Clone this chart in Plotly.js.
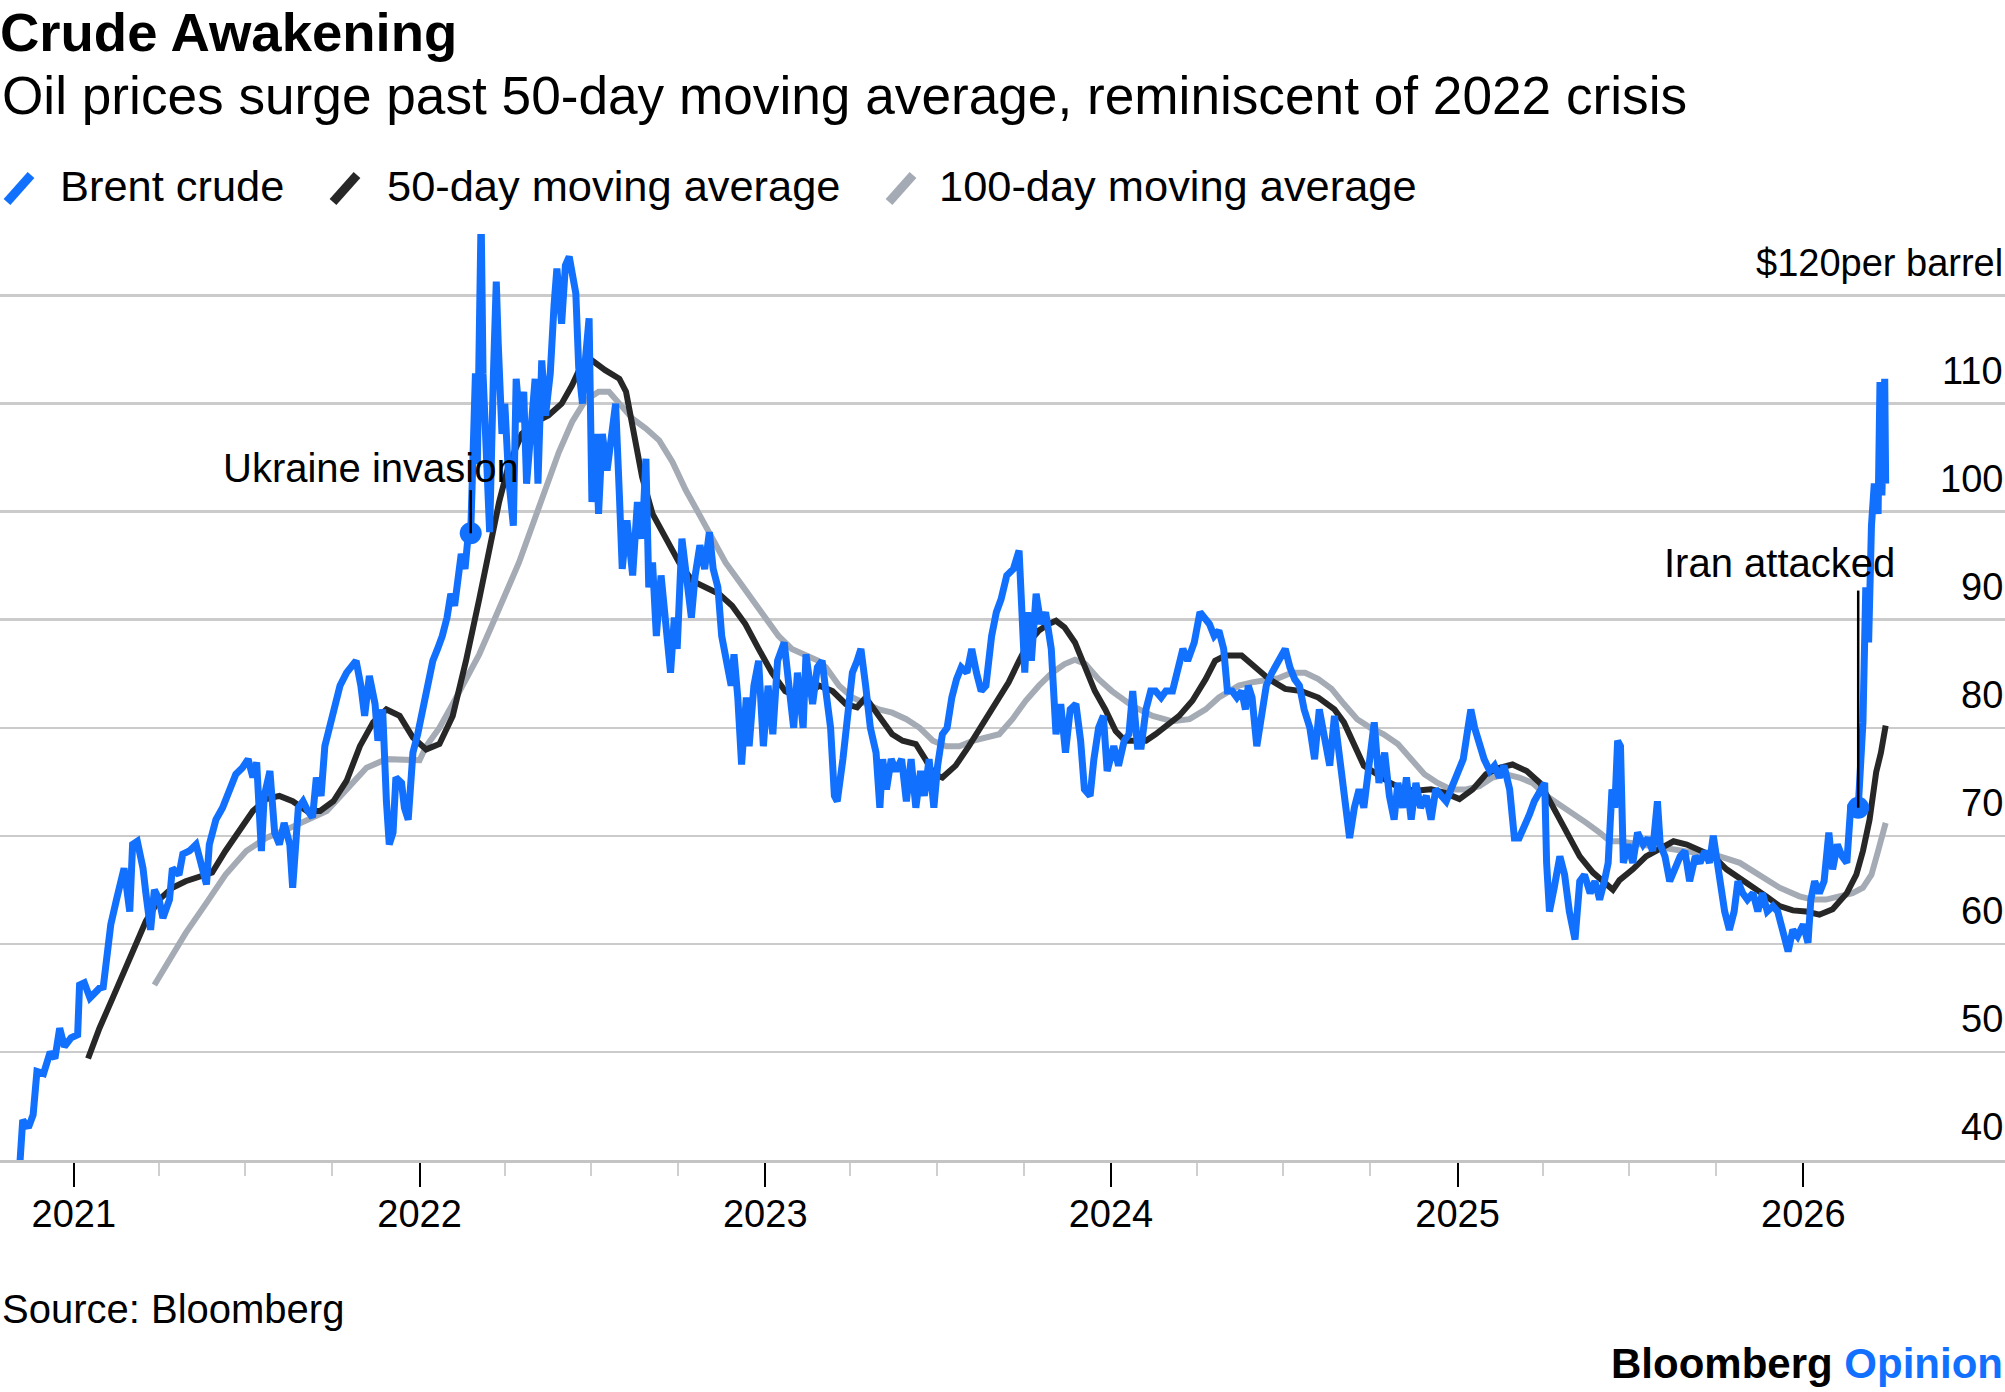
<!DOCTYPE html>
<html>
<head>
<meta charset="utf-8">
<script src="https://cdn.plot.ly/plotly-3.0.1.min.js"></script>
<style>
  html, body { margin: 0; padding: 0; background: #fff; }
  #chart { width: 2005px; height: 1392px; }
</style>
</head>
<body>
<div id="chart"></div>
<script>
// ---------------- DATA ----------------
const brentDates = [
 "2020-11-05","2020-11-08","2020-11-14","2020-11-19","2020-11-23","2020-11-30","2020-12-07","2020-12-12","2020-12-17","2020-12-22","2020-12-29",
 "2021-01-05","2021-01-07","2021-01-12","2021-01-18","2021-01-28","2021-02-01","2021-02-04","2021-02-09","2021-02-15","2021-02-20","2021-02-23",
 "2021-03-01","2021-03-04","2021-03-09","2021-03-15","2021-03-18","2021-03-23","2021-03-27","2021-04-01","2021-04-05","2021-04-12","2021-04-15",
 "2021-04-22","2021-04-26","2021-05-03","2021-05-10","2021-05-15","2021-05-21","2021-05-24","2021-05-31","2021-06-07","2021-06-14","2021-06-21",
 "2021-06-28","2021-07-04","2021-07-09","2021-07-13","2021-07-18","2021-07-21","2021-07-27","2021-08-01","2021-08-06","2021-08-11","2021-08-17",
 "2021-08-20","2021-08-26","2021-08-31","2021-09-05","2021-09-10","2021-09-14","2021-09-19","2021-09-23","2021-09-28","2021-10-03","2021-10-09",
 "2021-10-16","2021-10-21","2021-10-26","2021-10-31","2021-11-04","2021-11-09","2021-11-15","2021-11-18","2021-11-23","2021-11-27","2021-11-30",
 "2021-12-04","2021-12-07","2021-12-13","2021-12-16","2021-12-20","2021-12-25","2021-12-30",
 "2022-01-04","2022-01-09","2022-01-15","2022-01-20","2022-01-25","2022-01-30","2022-02-03","2022-02-07","2022-02-11","2022-02-14","2022-02-18",
 "2022-02-21","2022-02-24","2022-03-01","2022-03-03","2022-03-07","2022-03-09","2022-03-14","2022-03-16","2022-03-20","2022-03-23","2022-03-25",
 "2022-03-29","2022-04-01","2022-04-05","2022-04-10","2022-04-13","2022-04-17","2022-04-21","2022-04-24","2022-04-29","2022-05-03","2022-05-06",
 "2022-05-10","2022-05-14","2022-05-19","2022-05-23","2022-05-26","2022-05-31","2022-06-04","2022-06-08","2022-06-11","2022-06-15","2022-06-18",
 "2022-06-22","2022-06-25","2022-06-29","2022-07-02","2022-07-06","2022-07-09","2022-07-13","2022-07-18","2022-07-22","2022-07-27","2022-07-31",
 "2022-08-03","2022-08-08","2022-08-14","2022-08-19","2022-08-24","2022-08-28","2022-08-31","2022-09-04","2022-09-08","2022-09-13","2022-09-18",
 "2022-09-23","2022-09-27","2022-09-30","2022-10-05","2022-10-10","2022-10-15","2022-10-19","2022-10-24","2022-10-29","2022-11-03","2022-11-07",
 "2022-11-12","2022-11-16","2022-11-21","2022-11-26","2022-11-29","2022-12-03","2022-12-07","2022-12-12","2022-12-15","2022-12-20","2022-12-25",
 "2022-12-30",
 "2023-01-04","2023-01-09","2023-01-14","2023-01-21","2023-01-26","2023-01-31","2023-02-04","2023-02-10","2023-02-13","2023-02-20","2023-02-25",
 "2023-03-02","2023-03-06","2023-03-11","2023-03-15","2023-03-18","2023-03-24","2023-03-29","2023-04-03","2023-04-08","2023-04-12","2023-04-17",
 "2023-04-22","2023-04-28","2023-05-02","2023-05-05","2023-05-09","2023-05-14","2023-05-19","2023-05-25","2023-05-30","2023-06-04","2023-06-09",
 "2023-06-14","2023-06-18","2023-06-23","2023-06-28","2023-07-02","2023-07-07","2023-07-12","2023-07-17","2023-07-22","2023-07-27","2023-08-02",
 "2023-08-07","2023-08-12","2023-08-17","2023-08-22","2023-08-28","2023-09-02","2023-09-07","2023-09-13","2023-09-20","2023-09-26","2023-09-29",
 "2023-10-02","2023-10-05","2023-10-09","2023-10-14","2023-10-19","2023-10-24","2023-10-30","2023-11-04","2023-11-09","2023-11-14","2023-11-19",
 "2023-11-25","2023-11-30","2023-12-04","2023-12-10","2023-12-14","2023-12-19","2023-12-24","2023-12-28",
 "2024-01-04","2024-01-09","2024-01-15","2024-01-20","2024-01-24","2024-01-29","2024-02-02","2024-02-07","2024-02-12","2024-02-17","2024-02-23",
 "2024-02-28","2024-03-06","2024-03-12","2024-03-17","2024-03-22","2024-03-29","2024-04-04","2024-04-09","2024-04-14","2024-04-19","2024-04-24",
 "2024-04-29","2024-05-03","2024-05-08","2024-05-13","2024-05-18","2024-05-22","2024-05-25","2024-05-29","2024-06-03","2024-06-08","2024-06-13",
 "2024-06-19","2024-06-26","2024-07-03","2024-07-08","2024-07-13","2024-07-18","2024-07-23","2024-07-29","2024-08-03","2024-08-08","2024-08-14",
 "2024-08-19","2024-08-24","2024-08-29","2024-09-03","2024-09-09","2024-09-14","2024-09-19","2024-09-24","2024-09-30","2024-10-05","2024-10-10",
 "2024-10-16","2024-10-21","2024-10-26","2024-10-30","2024-11-04","2024-11-08","2024-11-13","2024-11-18","2024-11-23","2024-11-29","2024-12-04",
 "2024-12-09","2024-12-14","2024-12-20","2024-12-25",
 "2025-01-01","2025-01-07","2025-01-12","2025-01-15","2025-01-19","2025-01-24","2025-01-29","2025-02-04","2025-02-09","2025-02-14","2025-02-19",
 "2025-02-25","2025-03-02","2025-03-07","2025-03-13","2025-03-18","2025-03-23","2025-03-29","2025-04-03","2025-04-05","2025-04-08","2025-04-13",
 "2025-04-19","2025-04-24","2025-04-29","2025-05-05","2025-05-10","2025-05-15","2025-05-21","2025-05-26","2025-05-31","2025-06-05","2025-06-09",
 "2025-06-13","2025-06-16","2025-06-19","2025-06-22","2025-06-25","2025-06-30","2025-07-05","2025-07-10","2025-07-16","2025-07-21","2025-07-26",
 "2025-07-31","2025-08-03","2025-08-08","2025-08-13","2025-08-19","2025-08-24","2025-08-29","2025-09-03","2025-09-09","2025-09-14","2025-09-19",
 "2025-09-24","2025-09-28","2025-10-01","2025-10-06","2025-10-10","2025-10-15","2025-10-20","2025-10-24","2025-10-29","2025-11-03","2025-11-09",
 "2025-11-14","2025-11-19","2025-11-24","2025-11-30","2025-12-05","2025-12-10","2025-12-16","2025-12-21","2025-12-26",
 "2026-01-01","2026-01-06","2026-01-09","2026-01-13","2026-01-18","2026-01-23","2026-01-28","2026-02-01","2026-02-06","2026-02-11","2026-02-16",
 "2026-02-20","2026-02-25","2026-02-28","2026-03-05","2026-03-08","2026-03-11","2026-03-14","2026-03-17","2026-03-21","2026-03-23","2026-03-25",
 "2026-03-28","2026-03-29"
];
const brentValues = [
 39.7,43.7,43.0,44.2,48.2,48.0,50.0,49.4,52.2,50.5,51.3,
 51.6,56.2,56.4,55.0,55.9,56.0,57.9,61.8,64.1,65.8,67.0,
 63.0,69.2,69.5,67.0,64.7,61.3,65.0,64.1,62.4,64.1,67.0,
 66.4,68.3,68.6,69.2,67.5,65.5,69.2,71.5,72.6,74.3,75.7,
 76.3,77.1,75.4,76.8,68.6,73.7,76.0,70.3,69.2,71.2,69.2,
 65.2,72.6,73.2,72.3,71.7,75.4,73.7,78.3,80.0,82.2,83.9,
 85.1,85.6,86.2,83.9,81.1,84.8,82.2,78.8,81.7,73.2,69.2,
 70.3,75.4,74.9,72.6,71.5,77.7,79.4,
 81.7,83.9,86.2,87.3,88.5,90.2,92.4,91.3,94.1,96.1,94.7,
 97.5,98.0,112.8,104.4,127.5,112.8,98.7,98.1,112.8,121.3,115.7,
 107.2,110.0,103.2,98.7,112.3,108.3,111.1,102.6,108.9,112.3,102.6,
 114.0,108.9,112.8,119.1,122.5,117.4,122.8,123.6,121.9,120.2,113.4,
 110.0,114.0,117.9,100.9,107.2,99.8,107.2,103.8,107.2,110.0,101.5,
 94.7,99.2,94.1,100.9,97.5,104.9,93.0,95.3,88.5,94.1,90.2,
 85.1,90.2,87.3,97.5,94.1,90.2,94.1,96.9,94.7,98.1,94.7,
 93.0,88.5,86.2,83.9,86.8,82.8,76.6,82.8,78.3,83.9,86.2,
 78.3,
 83.9,79.4,86.2,87.9,83.9,80.0,85.1,80.0,86.8,82.2,85.6,
 86.2,83.4,80.0,73.7,73.2,77.1,81.7,85.1,86.2,87.3,83.9,
 80.0,77.7,72.6,77.1,74.3,77.1,76.0,77.1,73.2,77.1,72.6,
 76.0,73.7,77.1,72.6,76.5,79.4,80.0,82.8,84.5,85.6,85.1,
 87.3,85.1,83.4,83.9,88.5,90.7,91.9,94.1,94.7,96.4,91.9,
 85.1,90.7,86.2,92.4,89.6,90.7,87.3,79.4,82.2,77.7,81.7,
 82.2,78.8,74.3,73.7,77.1,80.0,81.1,76.0,
 78.3,76.5,78.8,79.4,83.4,78.3,78.3,81.7,83.4,83.4,82.8,
 83.4,83.4,85.6,87.3,86.2,87.9,90.7,90.2,89.6,88.5,89.0,
 87.3,83.4,83.4,82.8,83.4,81.7,83.9,82.8,78.3,81.7,83.9,
 85.1,86.2,87.3,85.6,84.5,83.9,81.7,80.0,77.1,81.7,78.8,
 76.5,81.1,77.7,73.2,69.8,72.6,74.3,72.6,77.1,80.5,74.9,
 77.7,73.7,71.5,74.9,72.6,75.4,71.5,74.9,72.6,73.7,71.5,
 74.3,73.7,73.2,74.3,
 76.0,77.1,80.0,81.7,80.0,78.3,77.1,76.0,76.5,75.4,76.5,
 74.3,69.8,69.8,70.9,72.0,73.2,74.3,74.9,67.5,63.0,65.2,
 68.1,66.4,63.0,60.4,65.8,66.4,64.7,65.8,64.1,65.8,67.5,
 74.3,72.6,78.8,78.3,67.5,69.2,67.5,70.3,69.2,69.8,68.6,
 73.2,69.2,68.1,65.8,66.9,68.1,68.6,65.8,68.1,67.5,68.6,
 67.5,70.0,68.1,65.2,63.0,61.3,63.0,65.8,64.7,64.1,64.7,
 63.0,64.7,63.0,63.5,63.0,61.3,59.3,61.3,60.7,
 61.8,60.1,64.1,65.8,64.7,65.8,70.3,66.9,69.2,68.1,67.5,
 72.6,72.6,72.6,80.5,93.0,87.9,98.7,102.6,99.8,112.0,101.5,
 112.3,102.6
];

const ma50Dates = [
 "2021-01-16","2021-01-28","2021-02-11","2021-02-25","2021-03-11","2021-03-18","2021-04-01","2021-04-15","2021-04-29","2021-05-13","2021-05-27",
 "2021-06-10","2021-06-25","2021-07-09","2021-07-23","2021-08-06","2021-08-20","2021-09-04","2021-09-18","2021-10-02","2021-10-16","2021-10-30",
 "2021-11-13","2021-11-27","2021-12-11","2021-12-25","2022-01-08","2022-01-22","2022-02-05","2022-02-19","2022-03-05","2022-03-16","2022-03-26",
 "2022-04-05","2022-04-19","2022-05-03","2022-05-17","2022-05-31","2022-06-11","2022-06-20","2022-07-02","2022-07-16","2022-07-31","2022-08-07",
 "2022-08-14","2022-08-24","2022-09-04","2022-09-18","2022-10-02","2022-10-16","2022-10-30","2022-11-13","2022-11-27","2022-12-11","2022-12-25",
 "2023-01-08","2023-01-22","2023-02-05","2023-02-15","2023-02-27","2023-03-13","2023-03-27","2023-04-08","2023-04-17","2023-05-01","2023-05-15",
 "2023-05-26","2023-06-09","2023-06-19","2023-06-28","2023-07-07","2023-07-21","2023-08-04","2023-08-18","2023-09-01","2023-09-15","2023-09-26",
 "2023-10-06","2023-10-17","2023-10-27","2023-11-04","2023-11-13","2023-11-24","2023-12-05","2023-12-15","2023-12-26","2024-01-06","2024-01-16",
 "2024-01-27","2024-02-07","2024-02-17","2024-02-28","2024-03-13","2024-03-27","2024-04-10","2024-04-20","2024-05-01","2024-05-18","2024-06-01",
 "2024-06-16","2024-07-03","2024-07-20","2024-08-07","2024-08-24","2024-09-03","2024-09-14","2024-09-24","2024-10-08","2024-10-22","2024-11-05",
 "2024-11-20","2024-12-04","2024-12-18","2025-01-03","2025-01-17","2025-01-31","2025-02-14","2025-02-28","2025-03-15","2025-03-29","2025-04-12",
 "2025-04-26","2025-05-10","2025-05-24","2025-06-04","2025-06-14","2025-06-21","2025-07-05","2025-07-19","2025-08-03","2025-08-17","2025-08-31",
 "2025-09-14","2025-09-28","2025-10-12","2025-10-26","2025-11-09","2025-11-23","2025-12-07","2025-12-21","2026-01-04","2026-01-18","2026-02-01",
 "2026-02-16","2026-02-26","2026-03-05","2026-03-12","2026-03-19","2026-03-24","2026-03-29"
];
const ma50Values = [
 49.4,52.2,55.0,57.9,60.7,62.1,64.1,65.2,65.8,66.2,66.6,
 68.6,70.6,72.3,73.4,73.7,73.2,72.3,72.3,73.2,75.1,78.3,
 80.5,81.7,81.1,79.1,78.0,78.5,81.1,86.2,91.9,97.0,100.9,
 104.3,107.2,108.3,108.9,110.0,111.7,113.4,114.0,113.1,112.3,111.1,
 107.7,103.2,99.8,97.5,95.3,93.6,93.0,92.4,91.3,89.6,87.3,
 85.1,83.4,82.8,83.2,83.9,83.4,82.2,81.9,82.8,81.1,79.4,
 78.8,78.5,77.1,75.7,75.4,76.5,78.3,80.2,82.2,84.2,86.2,
 87.9,89.0,89.6,89.9,89.3,87.9,85.6,83.4,81.7,79.7,78.8,
 78.8,78.8,79.4,80.2,81.1,82.5,84.5,86.2,86.7,86.7,85.6,
 84.5,83.6,83.4,82.8,81.7,80.5,78.3,76.5,75.7,74.9,74.3,
 74.2,74.3,74.0,73.4,74.3,75.7,76.3,76.6,76.0,74.9,72.6,
 70.3,68.1,66.6,65.8,65.0,65.9,66.9,68.1,68.9,69.5,69.2,
 68.6,68.1,66.9,66.1,65.2,64.4,63.5,63.1,63.0,62.7,63.2,
 64.7,66.4,68.6,71.5,75.9,77.7,80.2
];

const ma100Dates = [
 "2021-03-27","2021-04-08","2021-04-29","2021-05-21","2021-06-10","2021-07-02","2021-07-23","2021-08-14","2021-09-04","2021-09-25","2021-10-16",
 "2021-11-06","2021-11-27","2021-12-18","2022-01-01","2022-01-08","2022-01-22","2022-02-05","2022-02-19","2022-03-05","2022-03-19","2022-04-02",
 "2022-04-16","2022-04-30","2022-05-14","2022-05-28","2022-06-11","2022-06-25","2022-07-09","2022-07-20","2022-07-31","2022-08-14","2022-08-28",
 "2022-09-11","2022-09-25","2022-10-09","2022-10-23","2022-11-06","2022-11-20","2022-12-04","2022-12-18","2023-01-01","2023-01-15","2023-01-29",
 "2023-02-12","2023-02-26","2023-03-06","2023-03-20","2023-04-03","2023-04-17","2023-05-01","2023-05-15","2023-05-30","2023-06-13","2023-06-27",
 "2023-07-11","2023-07-25","2023-08-08","2023-08-22","2023-09-05","2023-09-19","2023-10-03","2023-10-17","2023-10-31","2023-11-13","2023-11-24",
 "2023-12-05","2023-12-19","2024-01-02","2024-01-24","2024-02-14","2024-03-06","2024-03-24","2024-04-10","2024-04-24","2024-05-15","2024-05-29",
 "2024-06-12","2024-06-26","2024-07-10","2024-07-24","2024-08-07","2024-08-21","2024-09-03","2024-09-17","2024-10-01","2024-10-15","2024-10-30",
 "2024-11-13","2024-11-27","2024-12-11","2024-12-25","2025-01-10","2025-01-24","2025-02-07","2025-02-21","2025-03-07","2025-03-21","2025-04-05",
 "2025-04-19","2025-05-03","2025-05-17","2025-05-31","2025-06-11","2025-06-21","2025-07-12","2025-08-03","2025-08-24","2025-09-14","2025-10-05",
 "2025-10-26","2025-11-16","2025-12-07","2025-12-28","2026-01-11","2026-01-25","2026-02-08","2026-02-22","2026-03-05","2026-03-14","2026-03-21",
 "2026-03-29"
];
const ma100Values = [
 56.2,57.9,61.0,63.8,66.4,68.6,69.8,70.6,71.5,72.3,74.3,
 76.3,77.1,77.1,77.0,78.3,80.0,82.2,84.5,86.8,89.6,92.4,
 95.3,98.7,102.0,105.5,108.3,110.3,111.1,111.1,110.0,108.6,107.7,
 106.6,104.6,102.0,99.8,97.5,95.3,93.6,91.9,90.2,88.5,87.3,
 86.8,86.2,85.6,83.9,82.8,82.2,81.7,81.4,80.8,80.0,78.8,
 78.3,78.3,78.8,79.1,79.4,80.8,82.5,83.9,85.1,85.9,86.3,
 85.9,84.5,83.4,82.0,81.1,80.6,80.8,81.7,82.8,83.9,84.2,
 84.4,84.6,85.1,85.1,84.5,83.6,82.2,80.8,80.0,79.4,78.5,
 77.1,75.7,74.9,74.3,74.3,74.6,75.4,75.7,75.4,74.9,73.7,
 72.9,72.0,71.2,70.3,69.5,69.5,69.2,68.9,68.6,68.3,68.1,
 67.5,66.4,65.2,64.4,64.1,64.1,64.4,64.7,65.2,66.4,68.6,
 71.2
];

const yTickVals = [40, 50, 60, 70, 80, 90, 100, 110, 120];
const yTickText = ["40", "50", "60", "70", "80", "90", "100", "110", "$120per barrel"];

const yearTicks = ["2021-01-01", "2022-01-01", "2023-01-01", "2024-01-01", "2025-01-01", "2026-01-01"];
const yearLabels = ["2021", "2022", "2023", "2024", "2025", "2026"];
const quarterTicks = [
 "2021-04-01","2021-07-01","2021-10-01","2022-04-01","2022-07-01","2022-10-01",
 "2023-04-01","2023-07-01","2023-10-01","2024-04-01","2024-07-01","2024-10-01",
 "2025-04-01","2025-07-01","2025-10-01"
];

const seriesNames = ["Brent crude", "50-day moving average", "100-day moving average"];

const eventDates = ["2022-02-24", "2026-02-28"];
const eventLabels = ["Ukraine invasion", "Iran attacked"];

// ---------------- STYLE ----------------
const FONT = "Liberation Sans, Arial, Helvetica, sans-serif";
const BLUE = "#1270ff";
const BLACK = "#272727";
const GREY = "#a5abb4";
const W = 2005, H = 1392;
const M = { l: 0, r: 0, t: 234, b: 232 };
const plotH = H - M.t - M.b;
const py = (pixelY) => (H - M.b - pixelY) / plotH;   // page pixel -> paper y
const px = (pixelX) => pixelX / W;                   // page pixel -> paper x

// event label placement (styles)
const eventLineTops = [102.0, 92.7];
const eventXShift = [50, 39];
const eventYShift = [-2, 4];

// value of Brent at an event date (taken from the data arrays)
const eventValues = eventDates.map(d => brentValues[brentDates.indexOf(d)]);

const traces = [
  { x: ma100Dates, y: ma100Values, type: "scatter", mode: "lines", name: seriesNames[2],
    line: { color: GREY, width: 6 }, hoverinfo: "skip" },
  { x: ma50Dates, y: ma50Values, type: "scatter", mode: "lines", name: seriesNames[1],
    line: { color: BLACK, width: 6 }, hoverinfo: "skip" },
  { x: brentDates, y: brentValues, type: "scatter", mode: "lines", name: seriesNames[0],
    line: { color: BLUE, width: 7 }, hoverinfo: "skip" },
  { x: eventDates, y: eventValues, type: "scatter", mode: "markers",
    marker: { color: BLUE, size: 22 }, hoverinfo: "skip", showlegend: false }
];

const shapes = [];
const annotations = [];

// event connector lines and labels
eventDates.forEach((d, i) => {
  shapes.push({ type: "line", xref: "x", yref: "y", x0: d, x1: d,
    y0: eventValues[i], y1: eventLineTops[i], line: { color: "#000", width: 2.5 }, layer: "above" });
  annotations.push({ xref: "x", yref: "y", x: d, y: eventLineTops[i], text: eventLabels[i],
    showarrow: false, xanchor: "right", yanchor: "bottom", xshift: eventXShift[i], yshift: eventYShift[i],
    font: { family: FONT, size: 40, color: "#000" } });
});

// y-axis labels drawn above their gridlines, right aligned
yTickVals.forEach((v, i) => {
  annotations.push({ xref: "paper", yref: "y", x: 1, y: v, text: yTickText[i],
    showarrow: false, xanchor: "right", yanchor: "middle", yshift: 33, xshift: 0,
    font: { family: FONT, size: 38, color: "#000" } });
});

// custom legend with slanted swatches
const legendColors = [BLUE, BLACK, GREY];
const swatchX = [7, 333, 889];
const labelX = [58, 385, 937];
seriesNames.forEach((name, i) => {
  shapes.push({ type: "line", xref: "paper", yref: "paper",
    x0: px(swatchX[i]), y0: py(202), x1: px(swatchX[i] + 24), y1: py(175),
    line: { color: legendColors[i], width: 9 } });
  annotations.push({ xref: "paper", yref: "paper", x: px(labelX[i]), y: py(186),
    xanchor: "left", yanchor: "middle", showarrow: false, text: name,
    font: { family: FONT, size: 43.4, color: "#000" } });
});

// subtitle, source, branding
annotations.push({ xref: "paper", yref: "paper", x: 0, y: py(95), xanchor: "left", yanchor: "middle",
  showarrow: false, text: "Oil prices surge past 50-day moving average, reminiscent of 2022 crisis",
  font: { family: FONT, size: 53.2, color: "#000" } });
annotations.push({ xref: "paper", yref: "paper", x: 0, y: py(1309), xanchor: "left", yanchor: "middle",
  showarrow: false, text: "Source: Bloomberg", font: { family: FONT, size: 40, color: "#000" } });
annotations.push({ xref: "paper", yref: "paper", x: 1, y: py(1363), xanchor: "right", yanchor: "middle",
  xshift: 0, showarrow: false,
  text: "<b>Bloomberg <span style=\"color:" + BLUE + "\">Opinion</span></b>",
  font: { family: FONT, size: 42, color: "#000" } });

const layout = {
  width: W, height: H,
  margin: M,
  paper_bgcolor: "#fff", plot_bgcolor: "#fff",
  showlegend: false,
  title: { text: "<b>Crude Awakening</b>", x: 0, xref: "container", xanchor: "left",
    y: 1 - 32 / H, yref: "container", yanchor: "middle",
    font: { family: FONT, size: 54.5, color: "#000" } },
  font: { family: FONT, color: "#000" },
  xaxis: {
    type: "date",
    range: ["2020-10-15", "2026-08-02"],
    showgrid: false, zeroline: false,
    showline: true, linecolor: "#c4c4c4", linewidth: 3,
    ticks: "outside", ticklen: 24, tickwidth: 2, tickcolor: "#000",
    tickmode: "array", tickvals: yearTicks, ticktext: yearLabels,
    ticklabelstandoff: -6,
    tickfont: { family: FONT, size: 38, color: "#000" },
    minor: { tickmode: "array", tickvals: quarterTicks, ticks: "outside", ticklen: 13, tickwidth: 2,
      tickcolor: "#cfcfcf", showgrid: false },
    fixedrange: true
  },
  yaxis: {
    range: [40, 125.7],
    side: "right",
    tickvals: yTickVals,
    showticklabels: false,
    ticks: "",
    showgrid: true, gridcolor: "#cbcbcb", gridwidth: 2.5,
    zeroline: false, showline: false,
    fixedrange: true
  },
  shapes: shapes,
  annotations: annotations
};

Plotly.newPlot("chart", traces, layout, { staticPlot: true, displayModeBar: false });
</script>
</body>
</html>
